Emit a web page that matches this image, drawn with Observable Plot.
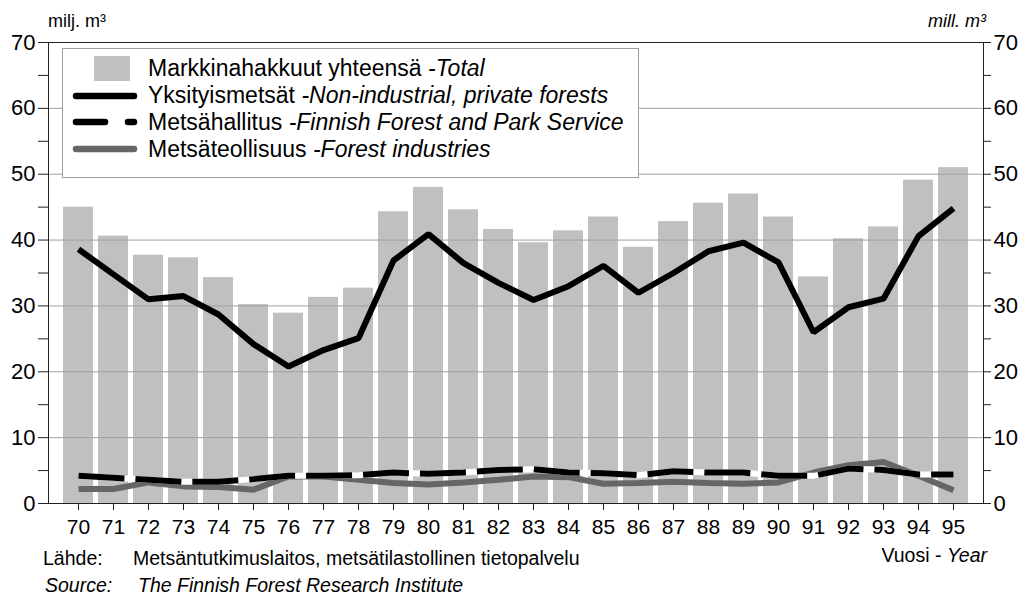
<!DOCTYPE html>
<html>
<head>
<meta charset="utf-8">
<script src="https://cdn.jsdelivr.net/npm/d3@7"></script>
<script src="https://cdn.jsdelivr.net/npm/@observablehq/plot@0.6"></script>
<style>
  body { margin: 0; background: white; }
  #wrap { position: relative; width: 1026px; height: 600px; overflow: hidden; background: white; }
  #wrap > svg.overlay { position: absolute; left: 0; top: 0; pointer-events: none; }
  #chart { position: absolute; left: 0; top: 0; }
</style>
</head>
<body>
<div id="wrap"><div id="chart"></div></div>
<script>
// ---- data (million m³) ----
const years = ["70","71","72","73","74","75","76","77","78","79","80","81","82","83","84","85","86","87","88","89","90","91","92","93","94","95"];
const totalFellings = [45.0,40.6,37.7,37.3,34.3,30.2,28.9,31.3,32.7,44.3,48.0,44.6,41.6,39.6,41.4,43.5,38.9,42.8,45.6,47.0,43.5,34.4,40.2,42.0,49.1,51.0];
const privateForests = [38.6,34.8,31.0,31.5,28.7,24.2,20.8,23.3,25.1,36.9,40.9,36.5,33.5,30.9,33.0,36.1,32.0,35.0,38.3,39.6,36.6,26.0,29.8,31.1,40.6,44.8];
const metsahallitus = [4.2,3.9,3.6,3.3,3.3,3.7,4.2,4.2,4.3,4.7,4.5,4.7,5.1,5.2,4.7,4.6,4.3,4.9,4.7,4.7,4.2,4.2,5.3,5.1,4.4,4.4];
const forestIndustries = [2.2,2.2,3.2,2.6,2.5,2.1,4.1,4.1,3.6,3.1,2.9,3.2,3.6,4.1,4.0,3.0,3.1,3.3,3.1,3.0,3.2,4.7,5.8,6.3,4.2,2.0];
const yTicks = [0,5,10,15,20,25,30,35,40,45,50,55,60,65,70];
const gridTicks = [10,20,30,40,50,60];
const legendLabels = [
  ["Markkinahakkuut yhteensä ", "-Total"],
  ["Yksityismetsät ", "-Non-industrial, private forests"],
  ["Metsähallitus ", "-Finnish Forest and Park Service"],
  ["Metsäteollisuus ", "-Forest industries"]
];

const rows = years.map((y, i) => ({
  year: y, total: totalFellings[i], priv: privateForests[i],
  mh: metsahallitus[i], ind: forestIndustries[i]
}));

const FONT = "'Liberation Sans', Arial, Helvetica, sans-serif";
const lineOpts = {x: "year", strokeWidth: 6, strokeLinejoin: "miter", strokeLinecap: "butt"};

const chart = Plot.plot({
  width: 1026,
  height: 545,
  marginLeft: 48,
  marginRight: 43,
  marginTop: 42,
  marginBottom: 42,
  style: {fontFamily: FONT, fontSize: "21px", background: "transparent", color: "#000", overflow: "visible"},
  x: {type: "band", domain: years, paddingInner: 0.15, paddingOuter: 0.1, label: null},
  y: {domain: [0, 70], label: null},
  marks: [
    Plot.barY(rows, {x: "year", y: "total", fill: "#c0c0c0"}),
    Plot.gridY(gridTicks, {stroke: "#a0a0a0", strokeOpacity: 1, strokeWidth: 1}),
    Plot.line(rows, {...lineOpts, y: "ind", stroke: "#666666"}),
    Plot.line(rows, {...lineOpts, y: "mh", stroke: "#ffffff"}),
    Plot.line(rows, {...lineOpts, y: "mh", stroke: "#000000", strokeDasharray: "46,11"}),
    Plot.line(rows, {...lineOpts, y: "priv", stroke: "#000000"}),
    Plot.frame({stroke: "#222"}),
    Plot.axisY(yTicks, {anchor: "left", tickFormat: d => d % 10 === 0 ? String(d) : "", tickSize: 10, tickPadding: 3, fontSize: 22, stroke: "#222", label: null}),
    Plot.axisY(yTicks, {anchor: "right", tickFormat: d => d % 10 === 0 ? String(d) : "", tickSize: 7, tickPadding: 3, fontSize: 22, stroke: "#222", label: null}),
    Plot.axisX({anchor: "bottom", tickSize: 7, tickPadding: 9, fontSize: 21, stroke: "#222", label: null})
  ]
});
document.getElementById("chart").appendChild(chart);

// ---- overlay: unit labels, legend, source ----
const ov = d3.select("#wrap").append("svg")
  .attr("class", "overlay")
  .attr("width", 1026).attr("height", 600)
  .style("font-family", FONT);

ov.append("text").attr("x", 48).attr("y", 27).attr("font-size", 18).text("milj. m³");
ov.append("text").attr("x", 986).attr("y", 27).attr("font-size", 18)
  .attr("text-anchor", "end").attr("font-style", "italic").text("mill. m³");

// legend
const lg = ov.append("g");
lg.append("rect").attr("x", 62.5).attr("y", 48.5).attr("width", 576).attr("height", 129)
  .attr("fill", "white").attr("stroke", "#a0a0a0");
lg.append("rect").attr("x", 94).attr("y", 56).attr("width", 36).attr("height", 25).attr("fill", "#c0c0c0");
lg.append("line").attr("x1", 76).attr("x2", 134).attr("y1", 96).attr("y2", 96)
  .attr("stroke", "#000").attr("stroke-width", 6.5).attr("stroke-linecap", "round");
lg.append("line").attr("x1", 76).attr("x2", 105).attr("y1", 122).attr("y2", 122)
  .attr("stroke", "#000").attr("stroke-width", 6.5).attr("stroke-linecap", "round");
lg.append("line").attr("x1", 128).attr("x2", 134).attr("y1", 122).attr("y2", 122)
  .attr("stroke", "#000").attr("stroke-width", 6.5).attr("stroke-linecap", "round");
lg.append("line").attr("x1", 76).attr("x2", 134).attr("y1", 149).attr("y2", 149)
  .attr("stroke", "#666666").attr("stroke-width", 6.5).attr("stroke-linecap", "round");
legendLabels.forEach(([fi, en], i) => {
  const t = lg.append("text").attr("x", 148).attr("y", 76 + i * 27).attr("font-size", 23);
  t.append("tspan").text(fi);
  t.append("tspan").attr("font-style", "italic").text(en);
});

// source / axis title
ov.append("text").attr("x", 43).attr("y", 565).attr("font-size", 19.5).text("Lähde:");
ov.append("text").attr("x", 133).attr("y", 565).attr("font-size", 19.5).text("Metsäntutkimuslaitos, metsätilastollinen tietopalvelu");
ov.append("text").attr("x", 45).attr("y", 592).attr("font-size", 19.5).attr("font-style", "italic").text("Source:");
ov.append("text").attr("x", 138).attr("y", 592).attr("font-size", 19.5).attr("font-style", "italic").text("The Finnish Forest Research Institute");
const vt = ov.append("text").attr("x", 987).attr("y", 562).attr("font-size", 19.5).attr("text-anchor", "end");
vt.append("tspan").text("Vuosi - ");
vt.append("tspan").attr("font-style", "italic").text("Year");
</script>
</body>
</html>
